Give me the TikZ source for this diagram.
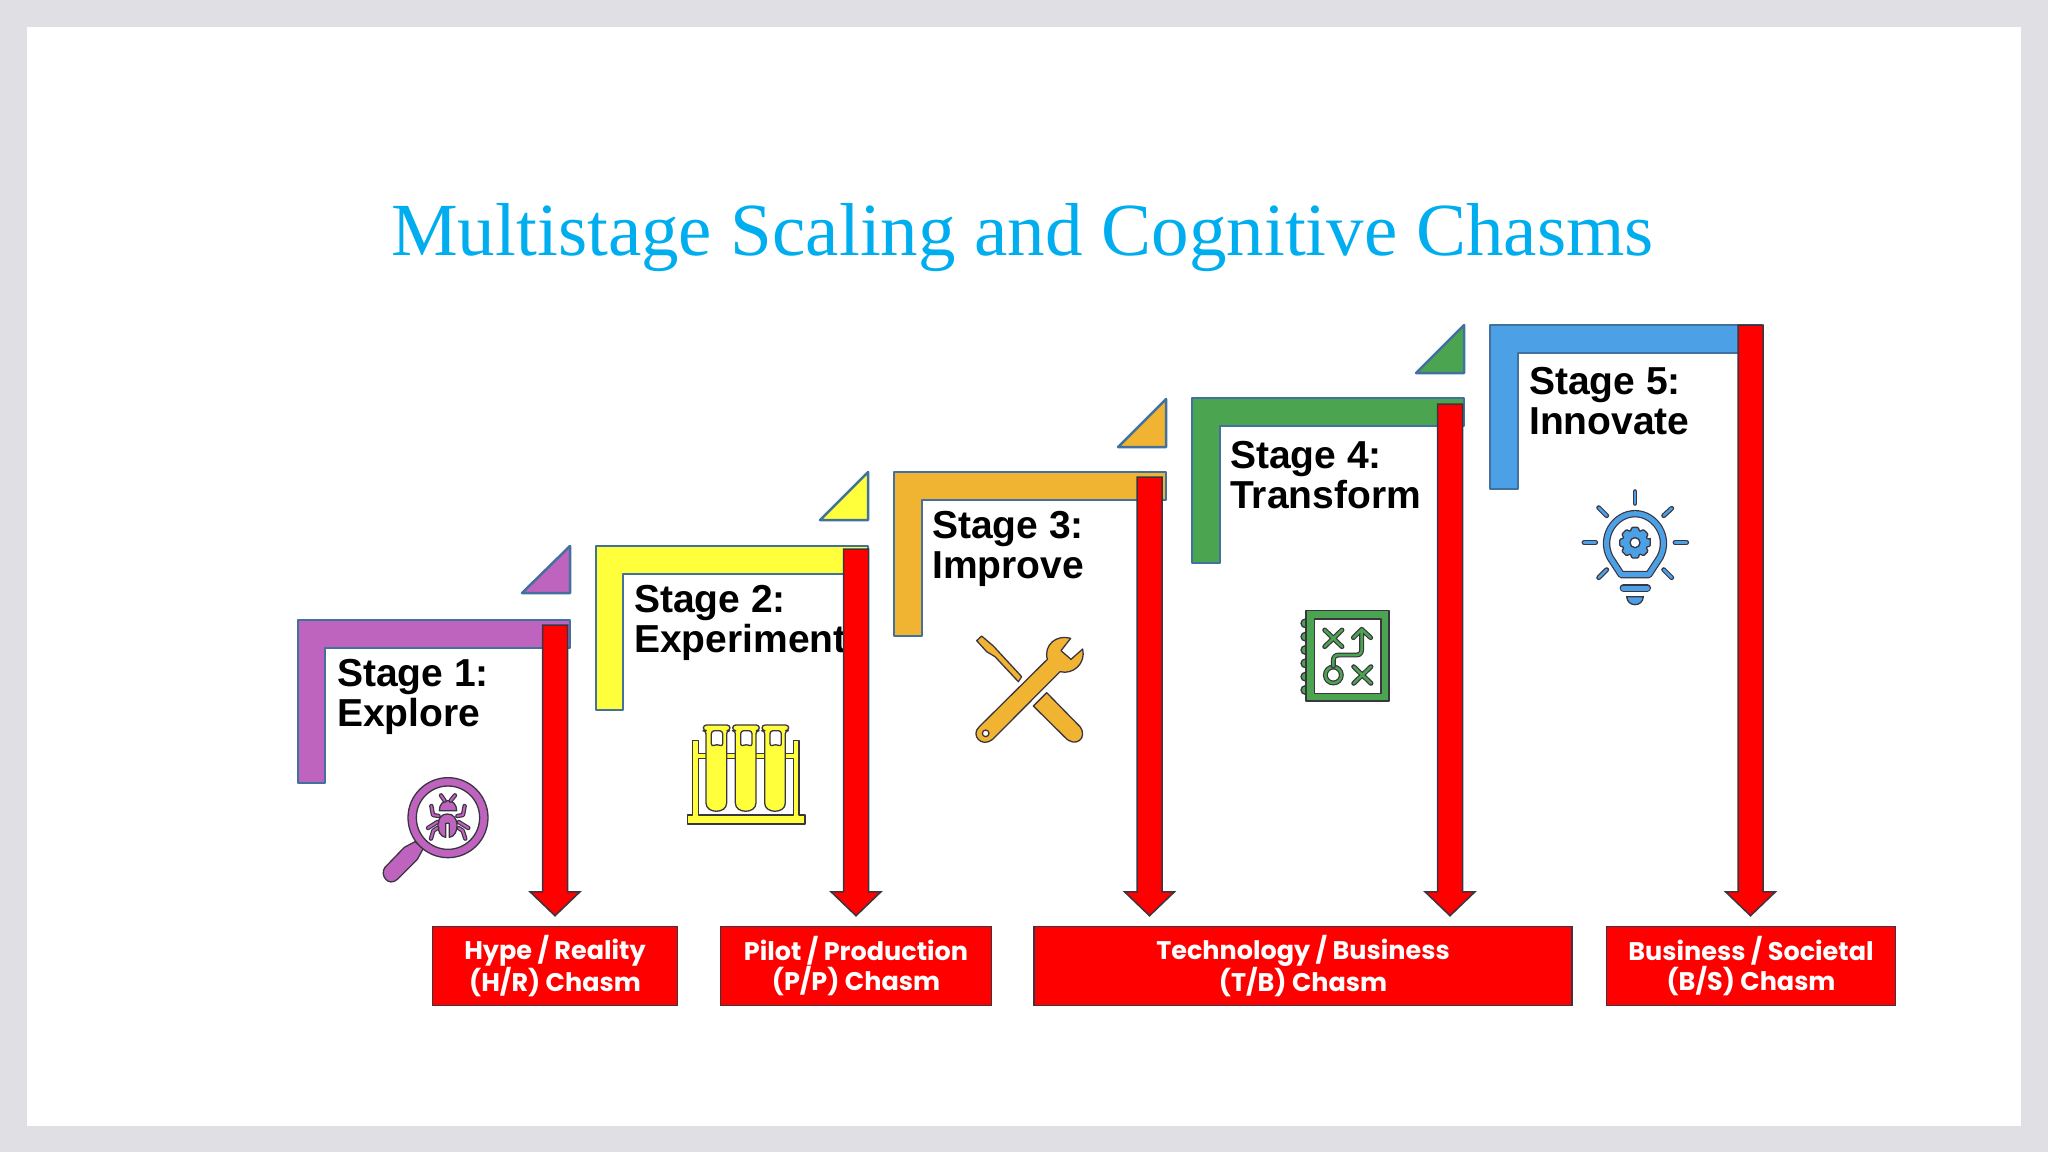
\documentclass[tikz,border=0pt]{standalone}
\usepackage{fontspec}
\setmainfont{Liberation Sans}
\newfontfamily\titlefont{Liberation Serif}
\newfontfamily\chasmfont{Poppins}
\usetikzlibrary{positioning,calc}
\definecolor{framegrey}{HTML}{E0DFE4}
\definecolor{titleblue}{HTML}{00AEEF}
\definecolor{stageline}{HTML}{41719C}
\definecolor{stagepurple}{HTML}{BE64BE}
\definecolor{stageyellow}{HTML}{FFFF3C}
\definecolor{stageorange}{HTML}{F0B432}
\definecolor{stagegreen}{HTML}{4BA550}
\definecolor{stageblue}{HTML}{4BA0E6}
\definecolor{chasmred}{HTML}{FF0000}
\definecolor{darkline}{HTML}{3A3540}
\tikzset{
    elbow/.style={
           draw=stageline,
           line width=2.5pt,
           line join=round,
           },
}
\tikzset{
    stagetext/.style={
           anchor=west,
           inner sep=0pt,
           align=left,
           font=\fontsize{39}{40}\selectfont\bfseries,
           },
}
\tikzset{
    chasm/.style={
           draw=darkline,
           line width=1.5pt,
           fill=chasmred,
           text=white,
           minimum height=79pt,
           inner sep=0pt,
           align=center,
           font=\fontsize{25.5}{30.5}\selectfont\chasmfont\bfseries,
           },
}
\tikzset{
    chasmshaft/.style={
           draw=darkline,
           line width=1.5pt,
           fill=chasmred,
           },
}
\tikzset{
    icon/.style={
           draw=darkline,
           line width=1.3pt,
           line join=round,
           even odd rule,
           },
}
\tikzset{
    iconline/.style={
           draw=darkline,
           line width=1.2pt,
           line cap=round,
           line join=round,
           },
}
\newcommand{\chasmarrow}[2]{
\draw[chasmshaft] ($(#1)+(-12.5,0)$) -- ($(#1)+(12.5,0)$) -- ($(#1 |- #2.north)+(12.5,-34)$)
   -- ($(#1 |- #2.north)+(25,-34)$) -- ($(#1 |- #2.north)+(0,-10)$) -- ($(#1 |- #2.north)+(-25,-34)$)
   -- ($(#1 |- #2.north)+(-12.5,-34)$) -- cycle;
}
\begin{document}
\begin{tikzpicture}[x=1pt,y=-1pt]
\useasboundingbox (0,0) rectangle (2048,1152);
\fill[framegrey] (0,0) rectangle (2048,1152);
\fill[white] (27,27) rectangle (2021,1126);

\node[text=titleblue,font=\fontsize{75}{80}\selectfont\titlefont](title) at (1022.5,238){Multistage Scaling and Cognitive Chasms};

% stage brackets and corner triangles
\draw[elbow,fill=stagepurple] (298,783) |- (570,620) |- (325,648) |- cycle;
\draw[elbow,fill=stageyellow] (596,710) |- (868,546) |- (623,574) |- cycle;
\draw[elbow,fill=stageorange] (894,636) |- (1166,472) |- (922,500) |- cycle;
\draw[elbow,fill=stagegreen] (1192,563) |- (1464,398) |- (1220,426) |- cycle;
\draw[elbow,fill=stageblue] (1490,489) |- (1762,325) |- (1518,353) |- cycle;
\draw[elbow,fill=stagepurple] (522,593) -- (570,546) -- (570,593) -- cycle;
\draw[elbow,fill=stageyellow] (820,520) -- (868,472) -- (868,520) -- cycle;
\draw[elbow,fill=stageorange] (1118,447) -- (1166,399) -- (1166,447) -- cycle;
\draw[elbow,fill=stagegreen] (1416,373) -- (1464,325) -- (1464,373) -- cycle;

% chasm boxes
\node[chasm,minimum width=245pt](hr) at (555,966){Hype / Reality\\(H/R) Chasm};
\node[chasm,minimum width=271pt](pp) at (856,966){Pilot / Production\\(P/P) Chasm};
\node[chasm,minimum width=538pt](tb) at (1303,966){Technology / Business\\(T/B) Chasm};
\node[chasm,minimum width=289pt](bs) at (1751,966){Business / Societal\\(B/S) Chasm};

% stage titles
\node[stagetext](stage1) at (337,697){Stage 1:\\Explore};
\node[stagetext](stage2) at (634,623){Stage 2:\\Experiment};
\node[stagetext](stage3) at (932,549){Stage 3:\\Improve};
\node[stagetext](stage4) at (1230,475){Stage 4:\\Transform};
\node[stagetext](stage5) at (1529,401){Stage 5:\\Innovate};

% arrows down to the boxes
\coordinate (a1) at (555,625);
\coordinate (a2) at (856,549);
\coordinate (a3) at (1149.5,477);
\coordinate (a4) at (1450,404);
\coordinate (a5) at (1750.5,325);
\chasmarrow{a1}{hr}
\chasmarrow{a2}{pp}
\chasmarrow{a3}{tb}
\chasmarrow{a4}{tb}
\chasmarrow{a5}{bs}

% magnifier
\begin{scope}[shift={(360,760)},scale=1/3]
\draw[icon,fill=stagepurple] (165,245) -- (133,262) -- (75,322) .. controls (58,345) and (85,382) .. (112,358) -- (172,298) -- (190,265) -- cycle;
\draw[icon,fill=stagepurple] (264,173) circle[radius=120] (264,173) circle[radius=95];
\draw[icon,fill=stagepurple] (238,152) .. controls (238,112) and (290,112) .. (290,152) -- cycle;
\draw[icon,fill=stagepurple] (262,162) .. controls (225,160) and (225,228) .. (257,232) -- (257,190) -- (268,190) -- (268,232) .. controls (300,228) and (300,160) .. (262,162) -- cycle;
\draw[iconline,double=stagepurple,double distance=2pt] (243,106) -- (254,122) (285,106) -- (272,122);
\draw[iconline,double=stagepurple,double distance=2pt] (236,168) -- (219,165) -- (214,138) (292,168) -- (309,165) -- (314,138);
\draw[iconline,double=stagepurple,double distance=2pt] (232,186) -- (204,204) (296,186) -- (325,204);
\draw[iconline,double=stagepurple,double distance=2pt] (232,204) -- (220,212) -- (213,236) (296,204) -- (308,212) -- (316,236);
\end{scope}

% test tubes
\begin{scope}[shift={(670,700)},scale=1/3]
\draw[icon,fill=stageyellow] (68,122) -- (85,122) -- (85,160) -- (370,160) -- (370,122) -- (387,122) -- (387,345) -- (405,345) -- (405,372) -- (52,372) -- (52,345) -- (68,345) -- cycle
   (85,175) -- (370,175) -- (370,345) -- (85,345) -- cycle;
\draw[icon,fill=stageyellow,rounded corners=3pt] (100,75) -- (180,75) -- (180,92) -- (170,92) -- (170,300) .. controls (170,342) and (108,342) .. (108,300) -- (108,92) -- (100,92) -- cycle
   (124,92) -- (158,92) -- (158,140) -- (141,132) -- (124,140) -- cycle;
\draw[icon,fill=stageyellow,rounded corners=3pt] (188,75) -- (268,75) -- (268,92) -- (258,92) -- (258,300) .. controls (258,342) and (196,342) .. (196,300) -- (196,92) -- (188,92) -- cycle
   (212,92) -- (246,92) -- (246,140) -- (229,132) -- (212,140) -- cycle;
\draw[icon,fill=stageyellow,rounded corners=3pt] (276,75) -- (356,75) -- (356,92) -- (346,92) -- (346,300) .. controls (346,342) and (284,342) .. (284,300) -- (284,92) -- (276,92) -- cycle
   (300,92) -- (334,92) -- (334,140) -- (317,132) -- (300,140) -- cycle;
\end{scope}

% tools
\begin{scope}[shift={(960,620)},scale=1/3]
\draw[icon,fill=stageorange] (58,320) -- (262,118) .. controls (250,75) and (290,42) .. (332,55) -- (303,92) -- (333,118) -- (368,87) .. controls (378,130) and (340,165) .. (300,155) -- (98,358) .. controls (65,385) and (30,345) .. (58,320) -- cycle
   (77,340) circle[radius=10];
\draw[icon,fill=stageorange] (220,258) -- (260,218) -- (360,320) .. controls (385,355) and (345,385) .. (315,352) -- cycle;
\draw[icon,fill=stageorange] (50,62) -- (65,48) -- (100,78) -- (185,170) -- (175,185) -- (105,110) -- (80,95) -- cycle;
\end{scope}

% play map
\begin{scope}[shift={(1280,595)},scale=1/3]
\draw[icon,fill=stagegreen] (76,85) circle[radius=13];
\draw[icon,fill=stagegreen] (76,125) circle[radius=13];
\draw[icon,fill=stagegreen] (76,165) circle[radius=13];
\draw[icon,fill=stagegreen] (76,205) circle[radius=13];
\draw[icon,fill=stagegreen] (76,245) circle[radius=13];
\draw[icon,fill=stagegreen] (76,285) circle[radius=13];
\draw[icon,fill=stagegreen] (78,47) rectangle (327,318) (103,72) rectangle (303,295);
\draw[iconline,double=stagegreen,double distance=2.5pt] (134,105) -- (186,155) (186,105) -- (134,155);
\draw[iconline,double=stagegreen,double distance=2.5pt] (221,215) -- (273,265) (273,215) -- (221,265);
\draw[iconline,double=stagegreen,double distance=2.5pt] (160,240) circle[radius=24];
\draw[iconline,double=stagegreen,double distance=2.5pt] (160,214) -- (160,198) .. controls (160,185) and (165,180) .. (178,180) -- (230,180) .. controls (243,180) and (245,170) .. (245,160) -- (245,103) (220,128) -- (245,103) -- (272,128);
\end{scope}

% bulb
\begin{scope}[shift={(1560,480)},scale=1/3]
\draw[iconline,double=stageblue,double distance=2.5pt] (225,35) -- (225,70) (345,187) -- (380,187) (72,187) -- (107,187);
\draw[iconline,double=stageblue,double distance=2.5pt] (116,83) -- (140,107) (335,85) -- (311,107) (116,293) -- (140,269) (335,293) -- (311,269);
\draw[iconline,double=stageblue,double distance=5pt] (184,284) -- (150,232) .. controls (118,170) and (165,101) .. (225,101) .. controls (285,101) and (332,170) .. (300,232) -- (266,284) -- cycle;
\draw[iconline,double=stageblue,double distance=5pt] (190,324) -- (262,324);
\draw[icon,fill=stageblue] (200,350) -- (250,350) .. controls (248,382) and (202,382) .. (200,350) -- cycle;
\begin{scope}[shift={(225,188)}]
\draw[icon,fill=stageblue,rounded corners=1pt] (-12:47) \foreach \a in {0,45,...,315} { -- (\a-12:47) -- (\a+12:47) -- (\a+22.5:36)} -- cycle (0,0) circle[radius=15];
\end{scope}
\end{scope}
\end{tikzpicture}
\end{document}
